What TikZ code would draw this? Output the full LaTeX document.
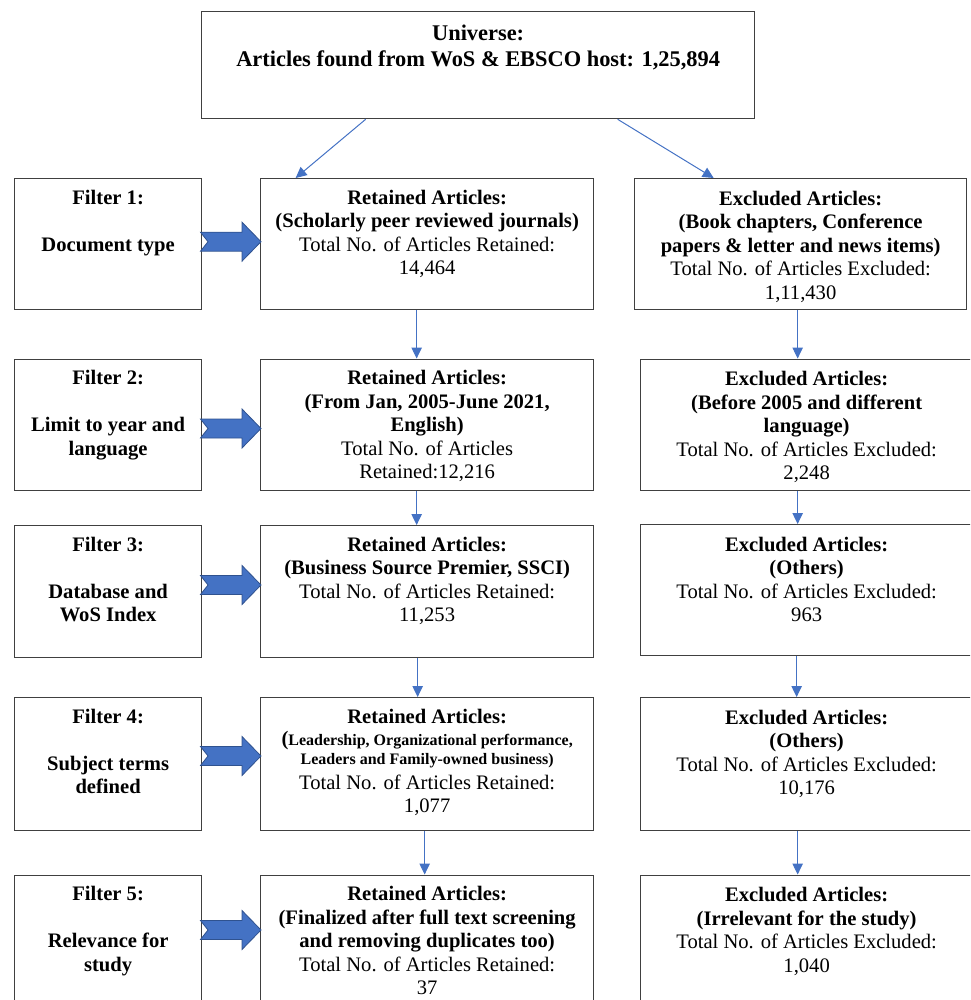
\documentclass[tikz,border=0pt]{standalone}
\usepackage{fontspec}
\setmainfont{Liberation Serif}
\usetikzlibrary{arrows.meta}
\definecolor{boxgray}{HTML}{404040}
\definecolor{bblue}{HTML}{4472C4}
\definecolor{bbluedark}{HTML}{2F528F}
\newcommand\myblockarrow[1]{%
  \path[barrow] (200.5,#1-9.5) -- (242,#1-9.5) -- (242,#1-19.5) -- (261,#1)
    -- (242,#1+19.5) -- (242,#1+9.5) -- (200.5,#1+9.5) -- (208,#1) -- cycle;}
\begin{document}
\begin{tikzpicture}[x=1pt,y=-1pt,
  box/.style={draw=boxgray,line width=1.3pt,inner sep=0pt,anchor=north west},
  txt/.style={inner sep=0pt,anchor=north,align=center,font=\fontsize{20.6}{23.5}\selectfont},
  ftxt/.style={txt,font=\fontsize{20.6}{23.5}\selectfont\bfseries},
  toptxt/.style={inner sep=0pt,anchor=north,align=center,font=\fontsize{22.4}{25.8}\selectfont\bfseries},
  conn/.style={draw=bblue,line width=1pt,-{Triangle[length=11pt,width=10.5pt]}},
  barrow/.style={fill=bblue,draw=bbluedark,line width=0.8pt}]
\useasboundingbox (0,0) rectangle (970,1000);
\clip (0,0) rectangle (970,1000);

% top box
\node[box,minimum width=553pt,minimum height=107pt] (top) at (201,11) {};
\node[toptxt] (topt) at ([yshift=-11pt]top.north) {\strut Universe:\\Articles found from WoS \& EBSCO host: 1,25,894};

% row 1
\node[box,minimum width=187pt,minimum height=131pt] (f1) at (14,178) {};
\node[box,minimum width=333pt,minimum height=131pt] (r1) at (260,178) {};
\node[box,minimum width=332pt,minimum height=131pt] (e1) at (634,178) {};
% row 2
\node[box,minimum width=187pt,minimum height=131.5pt] (f2) at (14,358.5) {};
\node[box,minimum width=333pt,minimum height=131.5pt] (r2) at (260,358.5) {};
\node[box,minimum width=332pt,minimum height=131.5pt] (e2) at (640,358.5) {};
% row 3
\node[box,minimum width=187pt,minimum height=132pt] (f3) at (14,525) {};
\node[box,minimum width=333pt,minimum height=132pt] (r3) at (260,525) {};
\node[box,minimum width=332pt,minimum height=131pt] (e3) at (640,524) {};
% row 4
\node[box,minimum width=187pt,minimum height=132.5pt] (f4) at (14,697) {};
\node[box,minimum width=333pt,minimum height=132.5pt] (r4) at (260,697) {};
\node[box,minimum width=332pt,minimum height=132.5pt] (e4) at (640,697) {};
% row 5
\node[box,minimum width=187pt,minimum height=140pt] (f5) at (14,874.5) {};
\node[box,minimum width=333pt,minimum height=140pt] (r5) at (260,874.5) {};
\node[box,minimum width=332pt,minimum height=140pt] (e5) at (640,874.5) {};

% filter texts
\node[ftxt] (f1t) at ([yshift=-9.5pt]f1.north) {\strut Filter 1:\\ \\Document type};
\node[ftxt] (f2t) at ([yshift=-9.5pt]f2.north) {\strut Filter 2:\\ \\Limit to year and\\language};
\node[ftxt] (f3t) at ([yshift=-9.5pt]f3.north) {\strut Filter 3:\\ \\Database and\\WoS Index};
\node[ftxt] (f4t) at ([yshift=-9.5pt]f4.north) {\strut Filter 4:\\ \\Subject terms\\defined};
\node[ftxt] (f5t) at ([yshift=-9.5pt]f5.north) {\strut Filter 5:\\ \\Relevance for\\study};

% retained texts
\node[txt] (r1t) at ([yshift=-9.5pt]r1.north) {\strut\textbf{Retained Articles:}\\\textbf{(Scholarly peer reviewed journals)}\\Total No. of Articles Retained:\\14,464};
\node[txt] (r2t) at ([yshift=-9.5pt]r2.north) {\strut\textbf{Retained Articles:}\\\textbf{(From Jan, 2005-June 2021,}\\\textbf{English)}\\Total No. of Articles\\Retained:12,216};
\node[txt] (r3t) at ([yshift=-9.5pt]r3.north) {\strut\textbf{Retained Articles:}\\\textbf{(Business Source Premier, SSCI)}\\Total No. of Articles Retained:\\11,253};
\node[txt] (r4t) at ([yshift=-9.5pt]r4.north) {\strut\textbf{Retained Articles:}\\[-1.5pt]
  \textbf{(}{\fontsize{16}{18.4}\selectfont\bfseries Leadership, Organizational performance,}\\[-4.5pt]
  {\fontsize{16}{18.4}\selectfont\bfseries Leaders and Family-owned business)}\\[1.5pt]
  Total No. of Articles Retained:\\1,077};
\node[txt] (r5t) at ([yshift=-9.5pt]r5.north) {\strut\textbf{Retained Articles:}\\\textbf{(Finalized after full text screening}\\\textbf{and removing duplicates too)}\\Total No. of Articles Retained:\\37};

% excluded texts
\node[txt] (e1t) at ([yshift=-10.5pt]e1.north) {\strut\textbf{Excluded Articles:}\\\textbf{(Book chapters, Conference}\\\textbf{papers \& letter and news items)}\\Total No. of Articles Excluded:\\1,11,430};
\node[txt] (e2t) at ([yshift=-10.5pt]e2.north) {\strut\textbf{Excluded Articles:}\\\textbf{(Before 2005 and different}\\\textbf{language)}\\Total No. of Articles Excluded:\\2,248};
\node[txt] (e3t) at ([yshift=-10.5pt]e3.north) {\strut\textbf{Excluded Articles:}\\\textbf{(Others)}\\Total No. of Articles Excluded:\\963};
\node[txt] (e4t) at ([yshift=-10.5pt]e4.north) {\strut\textbf{Excluded Articles:}\\\textbf{(Others)}\\Total No. of Articles Excluded:\\10,176};
\node[txt] (e5t) at ([yshift=-10.5pt]e5.north) {\strut\textbf{Excluded Articles:}\\\textbf{(Irrelevant for the study)}\\Total No. of Articles Excluded:\\1,040};

% block arrows
\myblockarrow{241.7}
\myblockarrow{428.5}
\myblockarrow{585}
\myblockarrow{756}
\myblockarrow{930}

% connectors
\draw[conn] ([xshift=-112.5pt]top.south) -- ([xshift=-131.5pt]r1.north);
\draw[conn] ([xshift=139.5pt]top.south) -- ([xshift=-87pt]e1.north);
\draw[conn] ([xshift=-10.5pt]r1.south) -- ([xshift=-10.5pt]r1.south |- r2.north);
\draw[conn] ([xshift=-10.5pt]r2.south) -- ([xshift=-10.5pt]r2.south |- r3.north);
\draw[conn] ([xshift=-9.5pt]r3.south) -- ([xshift=-9.5pt]r3.south |- r4.north);
\draw[conn] ([xshift=-2.5pt]r4.south) -- ([xshift=-2.5pt]r4.south |- r5.north);
\draw[conn] ([xshift=-3pt]e1.south) -- ([xshift=-3pt]e1.south |- e2.north);
\draw[conn] ([xshift=-9pt]e2.south) -- ([xshift=-9pt]e2.south |- e3.north);
\draw[conn] ([xshift=-10pt]e3.south) -- ([xshift=-10pt]e3.south |- e4.north);
\draw[conn] ([xshift=-9pt]e4.south) -- ([xshift=-9pt]e4.south |- e5.north);
\end{tikzpicture}
\end{document}
